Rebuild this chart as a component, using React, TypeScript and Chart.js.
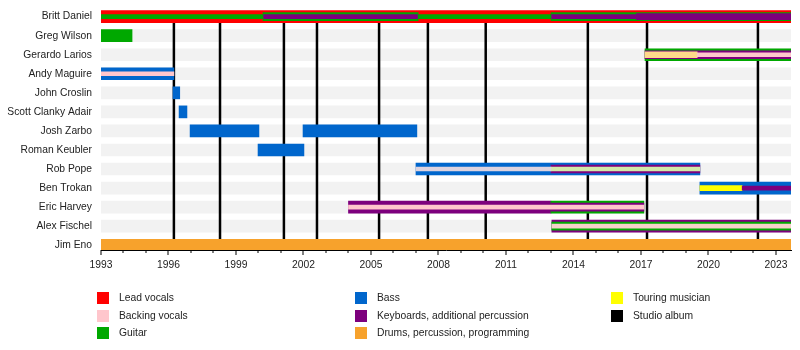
import React, { useEffect, useRef } from 'react';
import { Chart, registerables } from 'chart.js';

Chart.register(...registerables);

const START = 1993;
const END = 2023.67;

const members = [
  'Britt Daniel', 'Greg Wilson', 'Gerardo Larios', 'Andy Maguire', 'John Croslin',
  'Scott Clanky Adair', 'Josh Zarbo', 'Roman Keubler', 'Rob Pope', 'Ben Trokan',
  'Eric Harvey', 'Alex Fischel', 'Jim Eno',
];

const labelYears = [1993, 1996, 1999, 2002, 2005, 2008, 2011, 2014, 2017, 2020, 2023];
const albumYears = [1996.24, 1998.29, 2001.13, 2002.6, 2005.36, 2007.53, 2010.1, 2014.64, 2017.27, 2022.2];

// segments: [memberIndex, start, end]
const leadVocalsOuter = [[0, START, END]];
const guitarOuter = [[1, START, 1994.38], [2, 2017.18, END], [10, 2013.0, 2017.13]];
const bassOuter = [
  [3, START, 1996.24], [4, 1996.2, 1996.5], [5, 1996.47, 1996.82],
  [6, 1996.96, 2000.02], [6, 2001.98, 2007.04], [7, 1999.98, 2002.02],
  [8, 2007.0, 2019.62], [9, 2019.62, END],
];
const keyboardsOuter = [[10, 2004.0, 2013.0], [11, 2013.04, END]];
const drumsOuter = [[12, START, END]];

const guitarMid = [[0, 2000.2, 2007.1], [0, 2013.0, END], [11, 2013.04, END]];
const keyboardsMid = [[2, 2017.18, END], [8, 2013.0, 2019.62], [10, 2013.0, 2017.13]];

const guitarInner = [[0, START, 2000.2], [0, 2007.1, 2013.0]];
const keyboardsInner = [[0, 2000.2, 2007.1], [0, 2013.0, 2016.8], [9, 2021.5, END]];
const keyboardsInnerWide = [[0, 2016.8, END]];
const backingInner = [[3, START, 1996.24], [10, 2004.0, 2017.13], [2, 2019.5, END]];
const paleBackingInner = [[11, 2013.04, END]];
const touringInner = [[9, 2019.62, 2021.5]];
const touringBackingInner = [[2, 2017.18, 2019.5]];
const robEarlyInner = [[8, 2007.0, 2013.0]];
const robLateInner = [[8, 2013.0, 2019.62]];

const C = {
  red: '#ff0000',
  pink: '#ffc6cc',
  green: '#00a800',
  blue: '#0066cc',
  purple: '#7d007d',
  orange: '#f7a22c',
  yellow: '#ffff00',
  black: '#000000',
  stripe: '#f2f2f2',
};

const legendItems = [
  { label: 'Lead vocals', color: C.red, col: 0, row: 0 },
  { label: 'Backing vocals', color: C.pink, col: 0, row: 1 },
  { label: 'Guitar', color: C.green, col: 0, row: 2 },
  { label: 'Bass', color: C.blue, col: 1, row: 0 },
  { label: 'Keyboards, additional percussion', color: C.purple, col: 1, row: 1 },
  { label: 'Drums, percussion, programming', color: C.orange, col: 1, row: 2 },
  { label: 'Touring musician', color: C.yellow, col: 2, row: 0 },
  { label: 'Studio album', color: C.black, col: 2, row: 1 },
];
const legendColX = [97, 355, 611];
const legendRowY = [292, 310, 327];

const FONT = '"Liberation Sans", Arial, sans-serif';

function layer(segs: number[][], color: string, thickness: number, order: number) {
  return {
    type: 'bar' as const,
    data: segs.map(([r, s, e]) => ({ x: [s, e], y: r })),
    backgroundColor: color,
    barThickness: thickness,
    grouped: false,
    order,
    borderWidth: 0,
  };
}

const albumPlugin = {
  id: 'albumLines',
  afterDatasetDraw(chart: any, args: any) {
    if (args.index !== 0) return;
    const { ctx, scales } = chart;
    const x = scales.x;
    const y = scales.y;
    const top = y.getPixelForValue(0);
    const bottom = y.getPixelForValue(members.length - 1);
    ctx.save();
    ctx.fillStyle = C.black;
    albumYears.forEach((v) => {
      const px = x.getPixelForValue(v);
      ctx.fillRect(px - 1.25, top, 2.5, bottom - top);
    });
    ctx.restore();
  },
  afterDraw(chart: any) {
    const { ctx, scales, chartArea } = chart;
    const x = scales.x;
    ctx.save();
    ctx.fillStyle = '#000';
    x.ticks.forEach((t: any) => {
      const px = Math.round(x.getPixelForValue(t.value)) - 0.5;
      const major = labelYears.includes(t.value);
      ctx.fillRect(px, chartArea.bottom, 1, major ? 5 : 3);
    });
    ctx.restore();
  },
};

export default function App() {
  const ref = useRef<HTMLCanvasElement | null>(null);

  useEffect(() => {
    if (!ref.current) return;
    const datasets: any[] = [
      layer(members.map((_, i) => [i, START, END]), C.stripe, 12, 100),
      layer(leadVocalsOuter, C.red, 12, 30),
      layer(guitarOuter, C.green, 12, 30),
      layer(bassOuter, C.blue, 12, 30),
      layer(keyboardsOuter, C.purple, 12, 30),
      layer(drumsOuter, C.orange, 12, 30),
      layer(guitarMid, C.green, 8, 20),
      layer(keyboardsMid, C.purple, 8, 20),
      layer(guitarInner, C.green, 4, 10),
      layer(keyboardsInner, C.purple, 4, 10),
      layer(keyboardsInnerWide, C.purple, 6, 10),
      layer(backingInner, C.pink, 4, 10),
      layer(paleBackingInner, '#f6d2c8', 4, 10),
      layer(touringInner, C.yellow, 5, 10),
      layer(touringBackingInner, '#ffd98a', 6, 10),
      layer(robEarlyInner, '#ddd3df', 4, 10),
      layer(robLateInner, '#d2e8a8', 4, 10),
    ];

    const chart = new Chart(ref.current, {
      type: 'bar',
      data: { datasets },
      plugins: [albumPlugin],
      options: {
        indexAxis: 'y',
        responsive: false,
        animation: false,
        events: [],
        layout: { padding: { left: 0, right: 9, top: 9, bottom: 0 } },
        plugins: { legend: { display: false }, tooltip: { enabled: false } },
        scales: {
          x: {
            type: 'linear',
            min: START,
            max: END,
            offset: false,
            afterBuildTicks: (scale: any) => {
              const t: any[] = [];
              for (let v = START; v <= 2023; v++) t.push({ value: v });
              scale.ticks = t;
            },
            afterFit: (scale: any) => { scale.height = 100; },
            ticks: {
              autoSkip: false,
              maxRotation: 0,
              padding: 4,
              color: '#222',
              font: { family: FONT, size: 10.3 },
              callback: (v: any) => (labelYears.includes(v) ? String(v) : ''),
            },
            grid: { display: false, drawTicks: true, tickLength: 5, offset: false },
            border: { display: true, color: '#000', width: 1 },
          },
          y: {
            type: 'linear',
            reverse: true,
            min: -0.4,
            max: 12.25,
            offset: false,
            afterBuildTicks: (scale: any) => {
              scale.ticks = members.map((_, i) => ({ value: i }));
            },
            afterFit: (scale: any) => {
              scale.width = 101;
              scale.paddingTop = 0;
              scale.paddingBottom = 0;
            },
            ticks: {
              autoSkip: false,
              padding: 9,
              color: '#222',
              font: { family: FONT, size: 10.3 },
              callback: (v: any) => members[v] ?? '',
            },
            grid: { display: false, drawTicks: false, offset: false },
            border: { display: false },
          },
        },
      } as any,
    });
    return () => chart.destroy();
  }, []);

  return (
    <div style={{ position: 'absolute', left: 0, top: 0, width: 800, height: 350, background: '#fff', fontFamily: FONT }}>
      <canvas ref={ref} width={800} height={350} style={{ width: 800, height: 350, display: 'block' }} />
      {legendItems.map((it) => (
        <div
          key={it.label}
          style={{
            position: 'absolute',
            left: legendColX[it.col],
            top: legendRowY[it.row],
            height: 12,
            display: 'flex',
            alignItems: 'center',
            whiteSpace: 'nowrap',
          }}
        >
          <span style={{ display: 'inline-block', width: 12, height: 12, background: it.color }} />
          <span style={{ marginLeft: 10, fontSize: 10.3, color: '#222', lineHeight: '12px' }}>{it.label}</span>
        </div>
      ))}
    </div>
  );
}
